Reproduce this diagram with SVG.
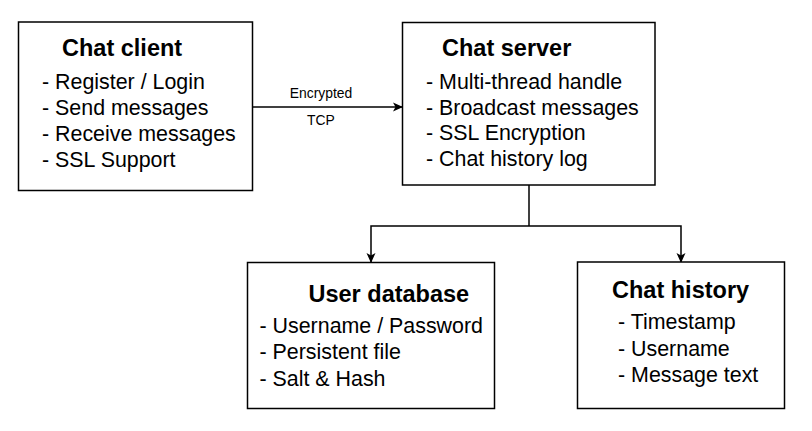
<svg xmlns="http://www.w3.org/2000/svg" width="812" height="431" viewBox="0 0 812 431">
<style>
.box{fill:#fff;stroke:#000;stroke-width:1.5}
.t{font-family:"Liberation Sans",Arial,sans-serif;font-weight:bold;font-size:23.5px;fill:#000}
.i{font-family:"Liberation Sans",Arial,sans-serif;font-size:21.4px;fill:#000}
.l{font-family:"Liberation Sans",Arial,sans-serif;font-size:13.9px;fill:#000}
.c{fill:none;stroke:#000;stroke-width:1.5}
</style>
<defs>
<marker id="ah" markerWidth="10" markerHeight="10" refX="9" refY="5" orient="auto" markerUnits="userSpaceOnUse">
<path d="M0,0.5 L10,5 L0,9.5 L2.5,5 Z" fill="#000"/>
</marker>
</defs>
<rect width="812" height="431" fill="#fff"/>
<g id="connectors">
<line class="c" x1="253" y1="107" x2="402" y2="107" marker-end="url(#ah)"/>
<text class="l" x="321" y="98" text-anchor="middle">Encrypted</text>
<text class="l" x="321" y="125" text-anchor="middle">TCP</text>
<path class="c" d="M529,185 V226"/>
<path class="c" d="M529,226 H371 V262" marker-end="url(#ah)"/>
<path class="c" d="M529,226 H681 V262" marker-end="url(#ah)"/>
</g>
<g id="chat-client">
<rect class="box" x="18.5" y="22" width="234" height="168.5"/>
<text class="t" x="62" y="56">Chat client</text>
<text class="i" x="42" y="89">- Register / Login</text>
<text class="i" x="42" y="115">- Send messages</text>
<text class="i" x="42" y="141">- Receive messages</text>
<text class="i" x="42" y="166.5">- SSL Support</text>
</g>
<g id="chat-server">
<rect class="box" x="402.5" y="22.5" width="252.5" height="162.5"/>
<text class="t" x="442" y="56">Chat server</text>
<text class="i" x="426" y="88.5">- Multi-thread handle</text>
<text class="i" x="426" y="114.5">- Broadcast messages</text>
<text class="i" x="426" y="140">- SSL Encryption</text>
<text class="i" x="426" y="166">- Chat history log</text>
</g>
<g id="user-database">
<rect class="box" x="247.5" y="262.5" width="247" height="146"/>
<text class="t" x="308.5" y="302">User database</text>
<text class="i" x="259.5" y="333">- Username / Password</text>
<text class="i" x="259.5" y="359">- Persistent file</text>
<text class="i" x="259.5" y="385.5">- Salt &amp; Hash</text>
</g>
<g id="chat-history">
<rect class="box" x="577.5" y="262" width="207" height="146.5"/>
<text class="t" x="612" y="298">Chat history</text>
<text class="i" x="618" y="329">- Timestamp</text>
<text class="i" x="618" y="355.5">- Username</text>
<text class="i" x="618" y="382">- Message text</text>
</g>
</svg>
